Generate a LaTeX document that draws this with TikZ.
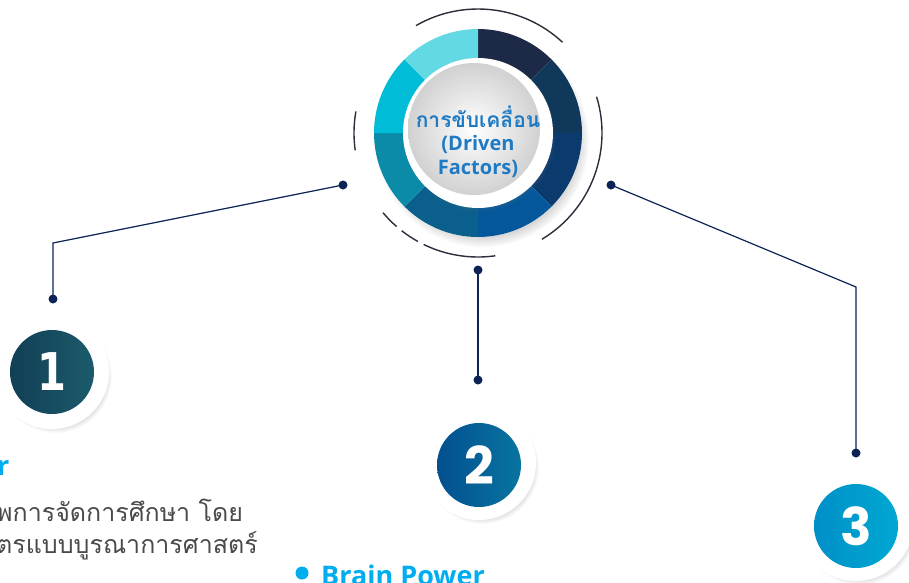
\documentclass[tikz,border=0pt]{standalone}
\usepackage{fontspec}
\newfontfamily\thaifont[Script=Thai]{Loma}
\newfontfamily\headfont{Open Sans}
\newfontfamily\digfont{Poppins}
\newfontfamily\onefont{DejaVu Sans}
\usetikzlibrary{shadows}
\definecolor{navy}{HTML}{0D2356}
\definecolor{arcgray}{HTML}{2B2D3A}
\definecolor{cyanc}{HTML}{00AEEF}
\definecolor{midblue}{HTML}{1F7AC4}
\definecolor{bodygray}{HTML}{4A4A4A}
\definecolor{s1}{HTML}{1C2A48}
\definecolor{s2}{HTML}{10385A}
\definecolor{s3}{HTML}{0B3B6E}
\definecolor{s4}{HTML}{03579A}
\definecolor{s5}{HTML}{0A5F8C}
\definecolor{s6}{HTML}{0B8BA8}
\definecolor{s7}{HTML}{00BCD6}
\definecolor{s8}{HTML}{62D9E3}
\definecolor{oneL}{HTML}{123F55}
\definecolor{oneR}{HTML}{1B5B6B}
\definecolor{twoL}{HTML}{03508F}
\definecolor{twoR}{HTML}{0874A0}
\definecolor{threeL}{HTML}{0090C8}
\definecolor{threeR}{HTML}{00A8D2}
\tikzset{
  conn/.style={draw=navy, line width=1.2pt},
  dotnode/.style={circle, fill=navy, minimum size=9pt, inner sep=0pt},
  ringarc/.style={draw=arcgray, line width=1.4pt},
  whitedisk/.style={circle, fill=white, minimum size=114pt, inner sep=0pt,
     circular drop shadow={shadow xshift=3pt, shadow yshift=-4pt, opacity=.35, shadow scale=1.0}},
  numdisk/.style={circle, minimum size=84pt, inner sep=0pt, text=white},
  head/.style={text=cyanc, font=\headfont\bfseries\fontsize{27}{30}\selectfont},
  body/.style={text=bodygray, font=\thaifont\fontsize{25}{28}\selectfont},
  centertext/.style={text=midblue, align=center}
}
\begin{document}
\begin{tikzpicture}[x=1pt,y=-1pt]
\useasboundingbox (0,0) rectangle (909,582);

% central ring
\begin{scope}[shift={(478,133)}, y=1pt]
  \path[fill=white, circular drop shadow={shadow xshift=4pt, shadow yshift=-7pt, opacity=.45, shadow scale=1.03}] (0,0) circle (104);
  \foreach \a/\c in {90/s1,45/s2,0/s3,-45/s4,-90/s5,-135/s6,-180/s7,-225/s8}{
    \fill[\c] (0,0) -- (\a:104) arc[start angle=\a, end angle=\a-45, radius=104] -- cycle;
  }
  \path[fill=white, circular drop shadow={shadow xshift=1pt, shadow yshift=-3pt, opacity=.3, shadow scale=1.02}] (0,0) circle (75);
  \shade[inner color=white, outer color=black!18] (-4,4) circle (66);
  \draw[ringarc] (47:124) arc[start angle=47, end angle=120, radius=124];
  \draw[ringarc] (-59:124) arc[start angle=-59, end angle=17, radius=124];
  \draw[ringarc] (170:124) arc[start angle=170, end angle=188, radius=124];
  \draw[ringarc] (220:124) arc[start angle=220, end angle=229, radius=124];
  \draw[ringarc] (232:124) arc[start angle=232, end angle=241, radius=124];
  \draw[ringarc] (244:124) arc[start angle=244, end angle=278, radius=124];
\end{scope}
\node[centertext, font=\thaifont\bfseries\fontsize{21}{24}\selectfont, inner sep=0pt] (ct1) at (478,117) {การขับเคลื่อน};
\node[centertext, font=\headfont\bfseries\fontsize{20}{22}\selectfont, inner sep=0pt] (ct2) at (478,144) {(Driven};
\node[centertext, font=\headfont\bfseries\fontsize{20}{22}\selectfont, inner sep=0pt] (ct3) at (478,169) {Factors)};

% connectors
\node[dotnode] (d1) at (343,185) {};
\coordinate (k1) at (53,243);
\node[dotnode] (e1) at (53,299) {};
\draw[conn] (d1.center) -- (k1) -- (e1.center);

\node[dotnode] (d2) at (478,270) {};
\node[dotnode] (e2) at (478,380) {};
\draw[conn] (d2.center) -- (e2.center);

\node[dotnode] (d3) at (611,185) {};
\coordinate (k3) at (856,287);
\node[dotnode] (e3) at (856,453) {};
\draw[conn] (d3.center) -- (k3) -- (e3.center);

% number circles
\node[whitedisk] (w1) at (52,372) {};
\node[numdisk, left color=oneL, right color=oneR, font=\onefont\bfseries\fontsize{52}{54}\selectfont] (n1) at (52,372) {\scalebox{0.8}[1]{1}};
\node[whitedisk] (w2) at (479,463) {};
\node[numdisk, left color=twoL, right color=twoR, font=\digfont\bfseries\fontsize{52}{54}\selectfont] (n2) at (479,465) {2};
\node[whitedisk] (w3) at (856,524) {};
\node[numdisk, left color=threeL, right color=threeR, font=\digfont\bfseries\fontsize{52}{54}\selectfont] (n3) at (856,526) {3};

% texts
\node[head, anchor=base west, inner sep=0pt] (h1) at (-3,475) {r};
\node[body, anchor=base west, inner sep=0pt] (b1) at (-4,521) {พการจัดการศึกษา โดย};
\node[body, anchor=base west, inner sep=0pt] (b2) at (-4,553) {ตรแบบบูรณาการศาสตร์};
\node[circle, fill=cyanc, minimum size=13pt, inner sep=0pt] (bul) at (302,573) {};
\node[head, anchor=base west, inner sep=0pt] (h2) at (321,585) {Brain Power};
\end{tikzpicture}
\end{document}
